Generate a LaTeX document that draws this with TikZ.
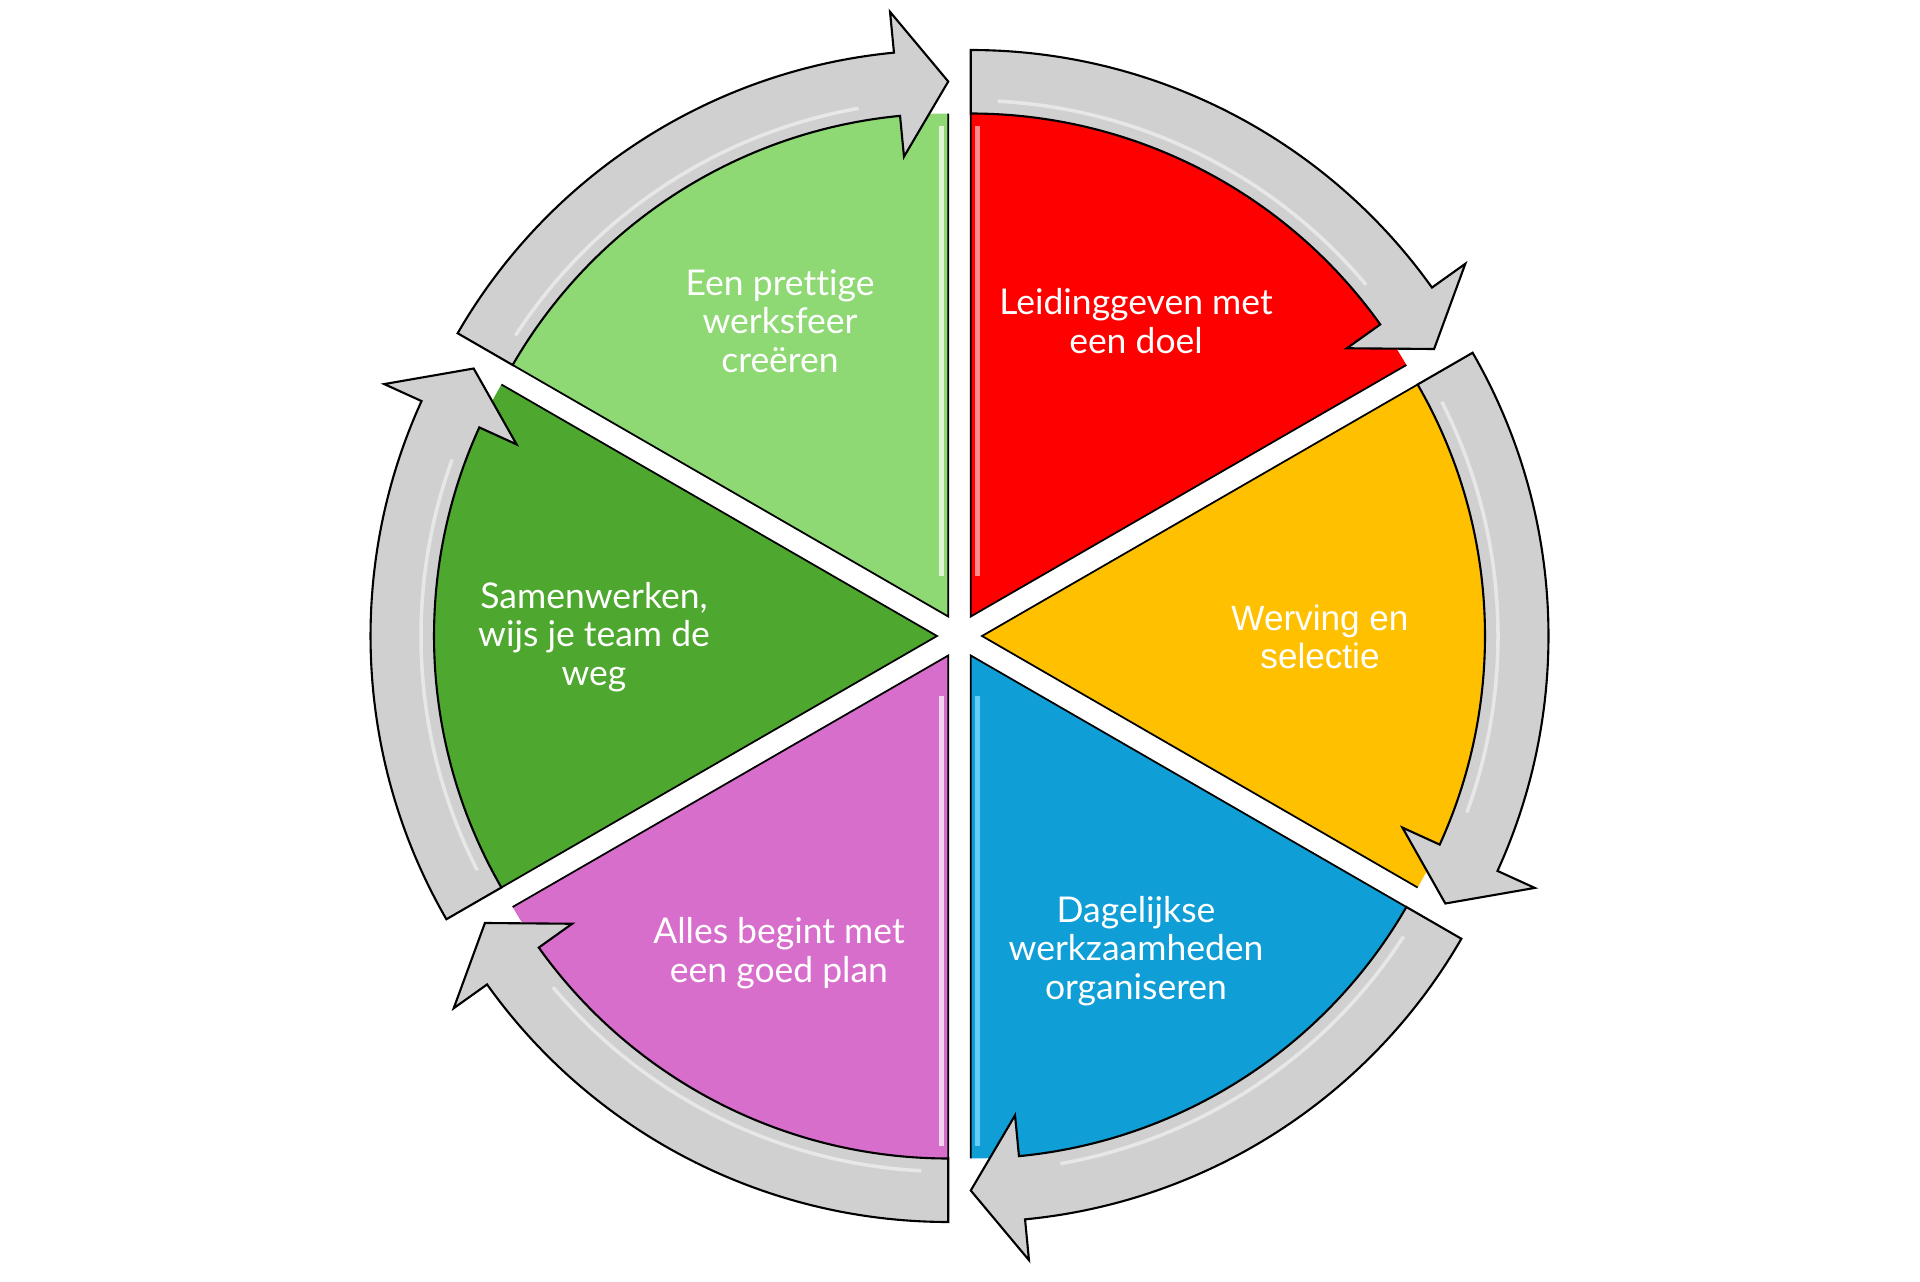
\documentclass[tikz,border=0pt]{standalone}
\usepackage{fontspec}
\setmainfont{Lato}[Ligatures=NoCommon]
\newfontfamily\arialfont{Liberation Sans}
\usepackage{tikz}

\definecolor{redpart}{HTML}{FF0000}
\definecolor{yellowpart}{HTML}{FFC000}
\definecolor{bluepart}{HTML}{0F9ED5}
\definecolor{pinkpart}{HTML}{D86ECC}
\definecolor{darkgreenpart}{HTML}{4EA72E}
\definecolor{lightgreenpart}{HTML}{8ED973}
\definecolor{arrowgray}{HTML}{D0D0D0}

\tikzset{
  cyclearrow/.style={draw=black, line width=0.6pt, fill=arrowgray, line join=miter},
  slicetext/.style={text=white, align=center, font=\fontsize{10.1}{11}\selectfont},
}

% one slice of the wheel with its arrow, #1 = start angle, #2 = colour
\newcommand{\cyclepart}[2]{%
  \begin{scope}[shift={(#1-30:0.225)}]
    \fill[#2] (0,0) -- (#1:5.03) arc[start angle=#1, end angle=#1-60, radius=5.03] -- cycle;
    \draw[black, line width=0.5pt] (#1-60:5.03) -- (0,0) -- (#1:5.03);
    \draw[cyclearrow] (#1:5.665) arc[start angle=#1, end angle=#1-54.5, radius=5.665]
      -- (#1-54.5:6.075) -- (#1-60:5.35) -- (#1-54.5:4.62) -- (#1-54.5:5.03)
      arc[start angle=#1-54.5, end angle=#1, radius=5.03] -- cycle;
    \draw[white, line width=1pt, opacity=0.5] (#1-3:5.16) arc[start angle=#1-3, end angle=#1-50, radius=5.16];
  \end{scope}}

\begin{document}
\begin{tikzpicture}
\useasboundingbox (0,0) rectangle (19.2,12.81);

\begin{scope}[shift={(9.595,6.45)}]
  \cyclepart{90}{redpart}
  \cyclepart{30}{yellowpart}
  \cyclepart{-30}{bluepart}
  \cyclepart{-90}{pinkpart}
  \cyclepart{-150}{darkgreenpart}
  \cyclepart{150}{lightgreenpart}
\end{scope}

% light bevel strips
\draw[red!45!white, line width=1.4pt] (9.7775,7.05) -- (9.7775,11.55);
\draw[lightgreenpart!30!white, line width=1.4pt] (9.4125,7.05) -- (9.4125,11.55);
\draw[cyan!60!white, line width=1.4pt] (9.7775,5.85) -- (9.7775,1.35);
\draw[pinkpart!30!white, line width=1.4pt] (9.4125,5.85) -- (9.4125,1.35);

\node[slicetext] (lead) at (11.36,9.60) {Leidinggeven met\\een doel};
\node[slicetext, font=\arialfont\fontsize{10}{10.8}\selectfont] (werving) at (13.20,6.44) {Werving en\\selectie};
\node[slicetext] (dagelijks) at (11.36,3.30) {Dagelijkse\\werkzaamheden\\organiseren};
\node[slicetext] (plan) at (7.79,3.28) {Alles begint met\\een goed plan};
\node[slicetext] (samen) at (5.94,6.44) {Samenwerken,\\wijs je team de\\weg};
\node[slicetext] (sfeer) at (7.80,9.60) {Een prettige\\werksfeer\\creëren};

\end{tikzpicture}
\end{document}
